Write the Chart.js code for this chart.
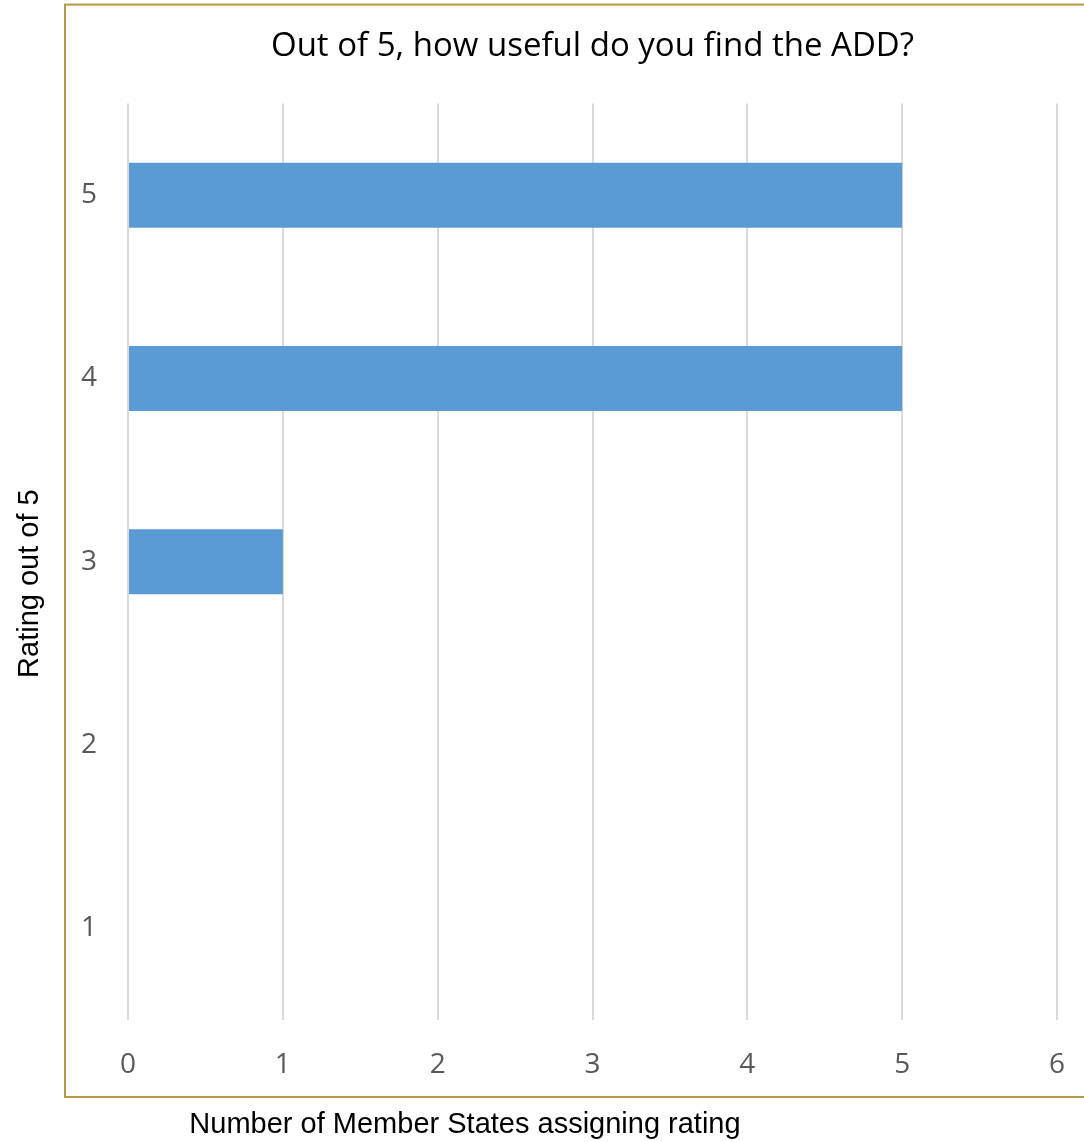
<!DOCTYPE html>
<html>
<head>
<meta charset="utf-8">
<script src="https://cdn.jsdelivr.net/npm/chart.js@4"></script>
<style>
  html, body { margin: 0; padding: 0; background: #ffffff; }
  #wrap { width: 1084px; height: 1142px; }
</style>
</head>
<body>
<div id="wrap"><canvas id="myChart" width="1084" height="1142"></canvas></div>
<script>
const ratings = ["1", "2", "3", "4", "5"];
const memberStates = [0, 0, 1, 5, 5];
const xTicks = [0, 1, 2, 3, 4, 5, 6];
const xTitle = "Number of Member States assigning rating";
const yTitle = "Rating out of 5";

// golden frame around the plot; axis titles sit outside it, off-centre like the original
const framePlugin = {
  id: "frame",
  beforeDraw(chart) {
    const a = chart.chartArea;
    const ctx = chart.ctx;
    ctx.save();
    ctx.strokeStyle = "#b59a45";
    ctx.lineWidth = 2;
    ctx.strokeRect(a.left - 63, a.top - 99, chart.width + 20 - (a.left - 63), a.bottom + 77 - (a.top - 99));
    ctx.restore();
  },
  afterDraw(chart) {
    const a = chart.chartArea;
    const ctx = chart.ctx;
    ctx.save();
    ctx.fillStyle = "#000000";
    ctx.font = "29px 'Liberation Sans'";
    ctx.textAlign = "center";
    ctx.textBaseline = "middle";
    ctx.fillText(xTitle, a.left + 337, a.bottom + 105);
    ctx.translate(30, a.top + 480);
    ctx.rotate(-Math.PI / 2);
    ctx.fillText(yTitle, 0, 0);
    ctx.restore();
  },
};

const data = {
  labels: ratings,
  datasets: [
    {
      label: "Member States",
      data: memberStates,
      backgroundColor: "#5b9bd5",
      borderWidth: 0,
      barPercentage: 0.355,
      categoryPercentage: 1,
    },
  ],
};

const config = {
  type: "bar",
  data: data,
  plugins: [framePlugin],
  options: {
    responsive: false,
    animation: false,
    indexAxis: "y",
    layout: {
      padding: { left: 0, right: 27, top: 0, bottom: 0 },
    },
    plugins: {
      legend: { display: false },
      tooltip: { enabled: false },
      title: {
        display: true,
        fullSize: false,
        text: "Out of 5, how useful do you find the ADD?",
        color: "#000000",
        font: { family: "'Open Sans'", size: 33, weight: "normal" },
        padding: { top: 27, bottom: 37 },
      },
    },
    scales: {
      x: {
        min: 0,
        max: 6,
        afterBuildTicks: (scale) => {
          scale.ticks = xTicks.map((v) => ({ value: v }));
        },
        afterFit: (scale) => {
          scale.height = 122;
          scale.paddingLeft = 0;
          scale.paddingRight = 0;
        },
        grid: { color: "#d9d9d9", lineWidth: 2, drawTicks: false },
        border: { display: false },
        ticks: {
          color: "#595959",
          padding: 28,
          font: { family: "'Open Sans'", size: 28 },
        },
      },
      y: {
        reverse: true,
        afterFit: (scale) => {
          scale.width = 128;
        },
        grid: { display: false, drawTicks: false },
        border: { display: false },
        ticks: {
          color: "#595959",
          padding: 31,
          font: { family: "'Open Sans'", size: 28 },
        },
      },
    },
  },
};

const myChart = new Chart(document.getElementById("myChart"), config);
</script>
</body>
</html>
